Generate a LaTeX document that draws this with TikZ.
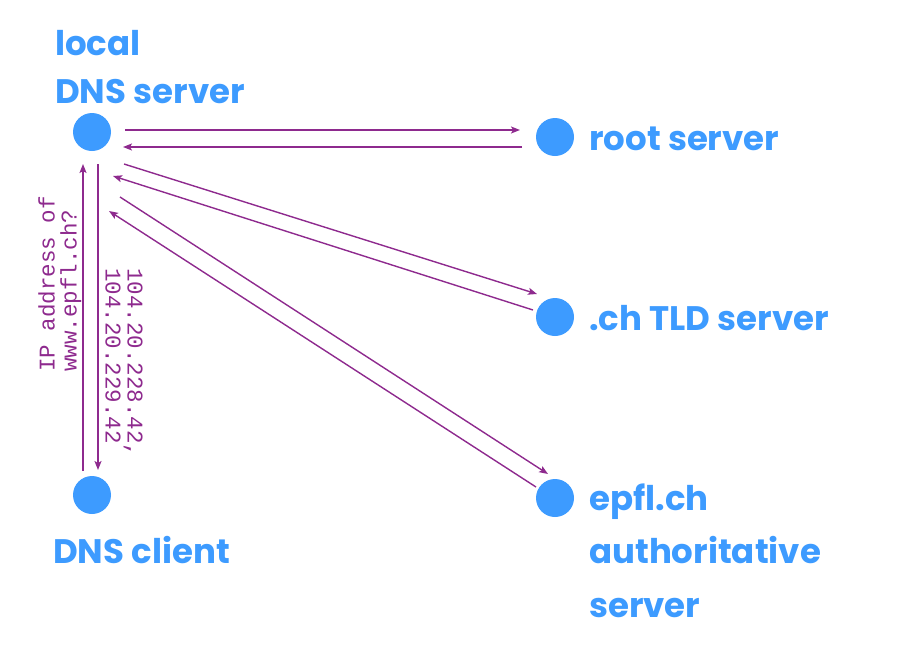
\documentclass[tikz,border=0pt]{standalone}
\usepackage{fontspec}
\setmainfont{Poppins}
\setmonofont{Liberation Mono}
\usetikzlibrary{arrows.meta,calc}
\definecolor{dotblue}{HTML}{3D9BFF}
\definecolor{msgpurple}{HTML}{8E2A8E}
\tikzset{
  host/.style={circle,fill=dotblue,draw=none,minimum size=38pt,inner sep=0pt},
  lbl/.style={text=dotblue,font=\fontsize{34}{34}\selectfont\bfseries,inner sep=0pt,anchor=base west},
  msg/.style={draw=msgpurple,line width=1.4pt,-{Stealth[length=9pt,width=7pt,inset=2pt]}},
  mono/.style={text=msgpurple,font=\fontsize{22.5}{22}\ttfamily,inner sep=0pt,align=left}
}
\begin{document}
\begin{tikzpicture}[x=1pt,y=-1pt]
\useasboundingbox (0,0) rectangle (914,662);
\node[host] (ldns) at (92,132) {};
\node[host] (root) at (555,137) {};
\node[host] (tld) at (555,317) {};
\node[host] (auth) at (555,498) {};
\node[host] (client) at (92,495) {};

\node[lbl] (tlocal) at (55,55) {local};
\node[lbl] (tldns) at (55,103) {DNS server};
\node[lbl] (troot) at (589,150) {root server};
\node[lbl] (ttld) at (589,330) {.ch TLD server};
\node[lbl] (tauth1) at (589,510) {epfl.ch};
\node[lbl] (tauth2) at (589,563) {authoritative};
\node[lbl] (tauth3) at (589,617) {server};
\node[lbl] (tclient) at (53,563) {DNS client};

\draw[msg] ($(ldns)+(33,-2)$) -- ($(root)+(-35,-7)$);
\draw[msg] ($(root)+(-33,10)$) -- ($(ldns)+(31,15)$);
\draw[msg] ($(ldns)+(32,32)$) -- ($(tld)+(-18,-23)$);
\draw[msg] ($(tld)+(-22,-7)$) -- ($(ldns)+(21,44)$);
\draw[msg] ($(ldns)+(28,65)$) -- ($(auth)+(-7,-24)$);
\draw[msg] ($(auth)+(-19,-11)$) -- ($(ldns)+(17,79)$);
\draw[msg] ($(client)+(-9,-24)$) -- ($(ldns)+(-9,32)$);
\draw[msg] ($(ldns)+(6,32)$) -- ($(client)+(6,-25)$);

\node[mono,rotate=90,anchor=north west] (q) at (38,372) {IP address of\\www.epfl.ch?};
\node[mono,rotate=-90,anchor=north west] (r) at (143,268) {104.20.228.42,\\104.20.229.42};
\end{tikzpicture}
\end{document}
